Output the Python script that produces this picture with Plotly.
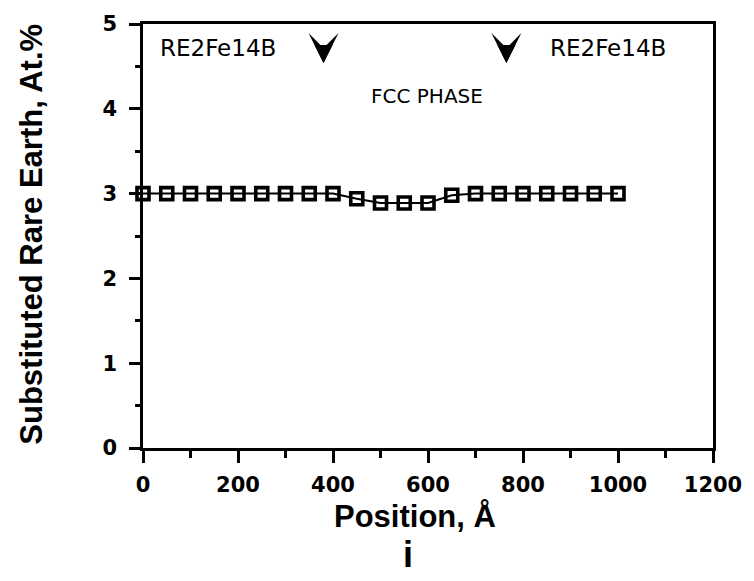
import plotly.graph_objects as go

# Composition profile across the interface
position = [0, 50, 100, 150, 200, 250, 300, 350, 400, 450, 500,
            550, 600, 650, 700, 750, 800, 850, 900, 950, 1000]
rare_earth = [3.0, 3.0, 3.0, 3.0, 3.0, 3.0, 3.0, 3.0, 3.0, 2.94, 2.89,
              2.89, 2.89, 2.98, 3.0, 3.0, 3.0, 3.0, 3.0, 3.0, 3.0]

# Phase boundary markers (arrow tips)
boundary_x = [380, 765]
boundary_y = [4.54, 4.54]

phase_labels = ["RE2Fe14B", "FCC PHASE", "RE2Fe14B"]
phase_x = [157, 597, 979]
phase_y = [4.72, 4.15, 4.72]
phase_size = [23, 20, 23]

x_ticks = [0, 200, 400, 600, 800, 1000, 1200]
y_ticks = [0, 1, 2, 3, 4, 5]

TITLE_FONT = "Liberation Sans, Arial, sans-serif"
TICK_FONT = "DejaVu Sans, sans-serif"

fig = go.Figure()

fig.add_trace(go.Scatter(
    x=position, y=rare_earth, mode="lines+markers",
    line=dict(color="black", width=2),
    marker=dict(symbol="square-open", size=12, color="black",
                line=dict(color="black", width=3.6)),
    showlegend=False, cliponaxis=False,
))

# Downward arrowheads marking the phase boundaries:
# a notched head with a solid core so the notch stays shallow
for bx, by in zip(boundary_x, boundary_y):
    for head, size in ((3, 5.0), (2, 3.6)):
        fig.add_annotation(x=bx, y=by, text=" ", showarrow=True,
                           ax=0, ay=-19, arrowhead=head, arrowsize=size,
                           arrowwidth=1, arrowcolor="black", standoff=0,
                           borderpad=0, font=dict(size=1))

for txt, x, y, s in zip(phase_labels, phase_x, phase_y, phase_size):
    fig.add_annotation(x=x, y=y, text=txt, showarrow=False, xanchor="center",
                       yanchor="middle",
                       font=dict(family=TICK_FONT, size=s, color="black"))

# Axis titles and panel label
fig.add_annotation(x=0.478, y=-0.162, xref="paper", yref="paper",
                   text="<b>Position, Å</b>", showarrow=False,
                   xanchor="center", yanchor="middle",
                   font=dict(family=TITLE_FONT, size=31, color="black"))
fig.add_annotation(x=-0.195, y=0.505, xref="paper", yref="paper",
                   text="<b>Substituted Rare Earth, At.%</b>", showarrow=False,
                   textangle=-90, xanchor="center", yanchor="middle",
                   font=dict(family=TITLE_FONT, size=31, color="black"))
fig.add_annotation(x=0.465, y=-0.252, xref="paper", yref="paper",
                   text="<b>i</b>", showarrow=False,
                   xanchor="center", yanchor="middle",
                   font=dict(family=TITLE_FONT, size=36, color="black"))

fig.update_xaxes(
    range=[0, 1200], tickvals=x_ticks, ticktext=[str(v) for v in x_ticks],
    showline=True, linecolor="black", linewidth=2.5, mirror=True,
    ticks="outside", ticklen=12, tickwidth=2.5, tickcolor="black",
    minor=dict(dtick=100, ticks="outside", ticklen=7, tickwidth=2.5, tickcolor="black"),
    showgrid=False, zeroline=False,
    tickfont=dict(family=TICK_FONT, size=21, color="black", weight="bold"),
    ticklabelstandoff=4,
)
fig.update_yaxes(
    range=[0, 5], tickvals=y_ticks, ticktext=[str(v) for v in y_ticks],
    showline=True, linecolor="black", linewidth=2.5, mirror=True,
    ticks="outside", ticklen=11, tickwidth=2.5, tickcolor="black",
    minor=dict(dtick=0.5, ticks="outside", ticklen=5, tickwidth=2.5, tickcolor="black"),
    showgrid=False, zeroline=False,
    tickfont=dict(family=TICK_FONT, size=21, color="black", weight="bold"),
    ticklabelstandoff=8,
)

fig.update_layout(
    width=754, height=581,
    margin=dict(l=143, r=36, t=21, b=133),
    paper_bgcolor="white", plot_bgcolor="white",
    font=dict(family=TITLE_FONT, color="black"),
)

fig.write_html("out.html")
